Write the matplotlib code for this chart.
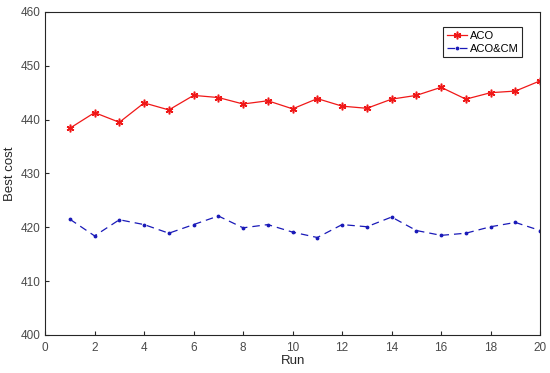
import numpy as np
import matplotlib
matplotlib.use('Agg')
import matplotlib.pyplot as plt

plt.rcParams['font.family'] = ['Liberation Sans', 'DejaVu Sans']

runs = list(range(1, 21))
aco = [438.4, 441.3, 439.5, 443.1, 441.8, 444.5, 444.1, 442.9, 443.5, 442.0,
       443.9, 442.5, 442.1, 443.8, 444.5, 446.0, 443.8, 445.0, 445.3, 447.2]
aco_cm = [421.5, 418.4, 421.4, 420.5, 418.9, 420.5, 422.1, 419.9, 420.5, 419.1,
          418.1, 420.5, 420.1, 421.9, 419.4, 418.5, 418.9, 420.1, 420.9, 419.4]

fig = plt.figure(figsize=(5.5, 3.73), dpi=100)
ax = fig.add_axes([0.082, 0.102, 0.900, 0.866])

ax.plot(runs, aco, color='#f01818', lw=0.9, marker=(6, 2, 0), ms=5.5, mew=1.1,
        label='ACO')
ax.plot(runs, aco_cm, color='#1a1ab8', lw=0.9, ls=(0, (6, 4)), marker='.', ms=3.5,
        label='ACO&CM')

ax.set_xlim(0, 20)
ax.set_ylim(400, 460)
ax.set_xticks(range(0, 21, 2))
ax.set_yticks(range(400, 461, 10))
ax.tick_params(direction='in', length=3, labelsize=8.5, colors='#262626',
               labelcolor='#4a4a4a', top=False, right=False)
ax.tick_params(axis='x', pad=5)
for s in ax.spines.values():
    s.set_color('#262626')
    s.set_linewidth(0.8)
ax.set_xlabel('Run', fontsize=9.5, labelpad=1, color='#262626')
ax.set_ylabel('Best cost', fontsize=9.5, labelpad=3, color='#262626')

leg = ax.legend(loc='upper right', bbox_to_anchor=(0.975, 0.97), fontsize=8,
                fancybox=False, framealpha=1, edgecolor='#262626',
                handlelength=1.8, borderpad=0.3, labelspacing=0.3,
                handletextpad=0.3)
leg.get_frame().set_linewidth(0.8)

fig.savefig('out.png', dpi=100)
